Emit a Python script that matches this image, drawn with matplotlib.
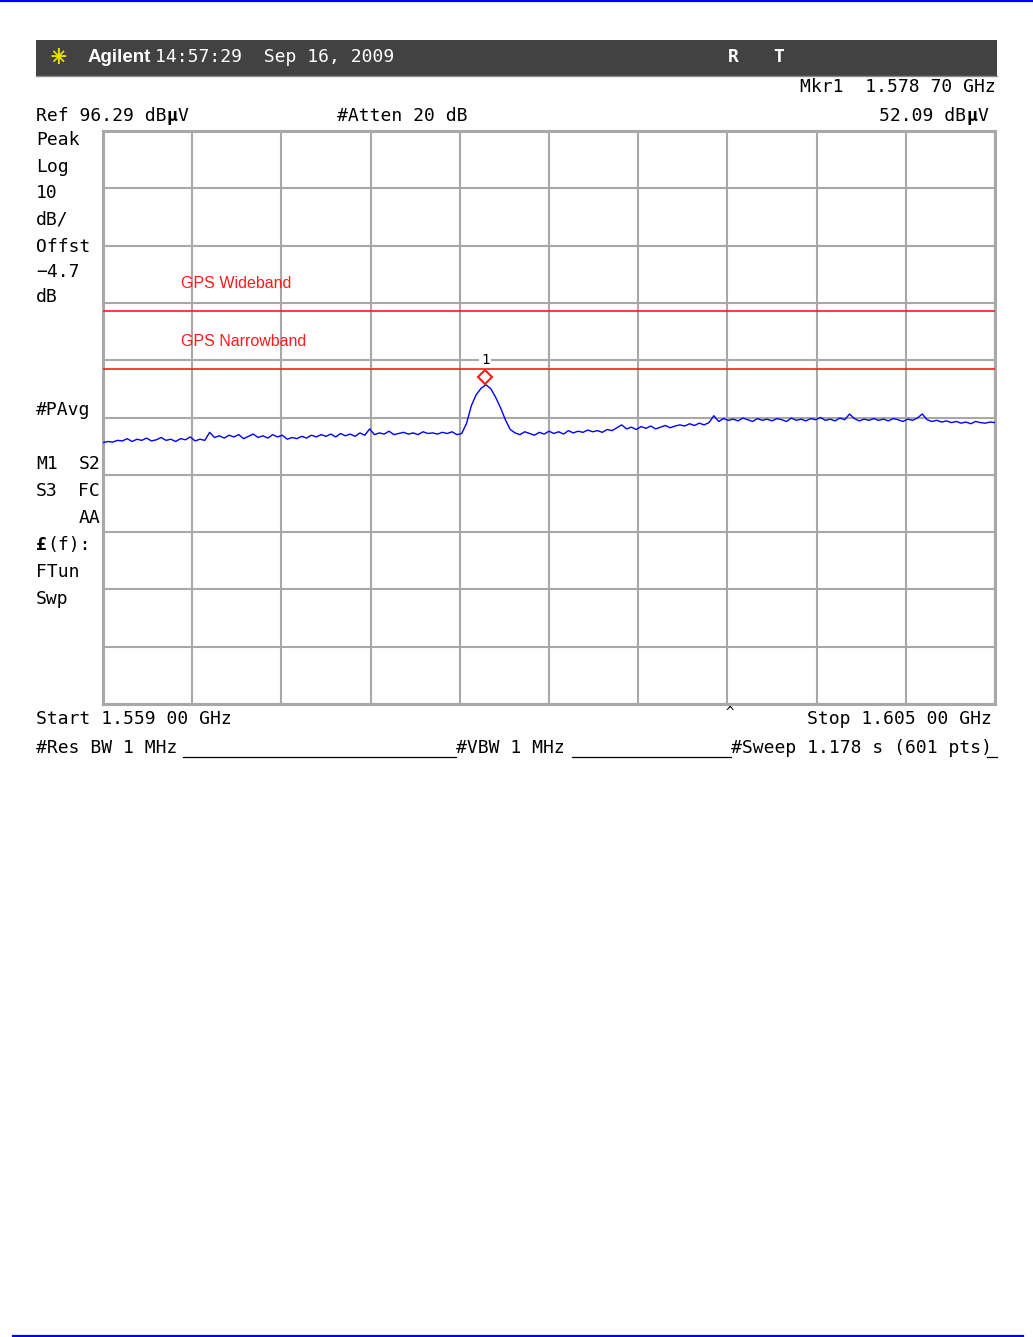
import numpy as np
import matplotlib
matplotlib.use("Agg")
import matplotlib.pyplot as plt
import matplotlib.transforms as mtransforms
from matplotlib.lines import Line2D
from matplotlib.patches import Rectangle

start_ghz = 1.559
stop_ghz = 1.605
ref_level = 96.29
db_per_div = 10

# measured level in dBuV, one value every 0.25 MHz
level_dbuv = [
    41.9, 42.1, 42.0, 42.3, 42.2, 42.6, 42.1, 42.5, 42.3, 42.7, 42.2, 42.4, 42.8, 42.3, 42.5, 42.1,
    42.6, 42.4, 42.9, 42.2, 42.5, 42.3,
    43.7, 42.8, 43.1, 42.7, 43.2, 42.9, 43.3, 42.6, 43.0, 43.4, 42.8, 43.1, 42.7, 43.3, 42.9, 43.2,
    42.5, 42.8, 42.6, 43.0, 42.7, 43.2, 42.9, 43.3, 43.0, 43.4, 42.9, 43.5, 43.1, 43.4, 43.0, 43.6, 43.2,
    44.3, 43.3, 43.6, 43.4, 43.9, 43.3, 43.5, 43.7, 43.4, 43.6, 43.3, 43.8, 43.5, 43.6, 43.4, 43.7,
    43.5, 43.8,
    43.3, 43.5,
    45.3, 48.4, 50.3, 51.4, 52.0, 51.3, 49.8, 48.0, 45.9, 44.2, 43.6,
    43.3, 43.8, 43.5, 43.2, 43.7, 43.4, 43.9, 43.5, 43.8, 43.4, 44.0, 43.6, 43.9, 43.7, 44.1, 43.8,
    44.0, 43.7, 44.2,
    44.0, 44.5, 45.0, 44.3, 44.6, 44.2, 44.7, 44.4, 44.8, 44.3, 44.6, 44.9, 44.5, 44.8, 45.0,
    44.8, 45.2, 44.9, 45.3, 45.0, 45.4, 46.6,
    45.6, 46.1, 45.8, 46.0, 45.7, 46.2, 45.9, 45.6, 46.1, 45.8, 46.0, 45.7, 46.1, 45.9, 45.6, 46.2,
    45.8, 46.0, 45.7, 46.1, 45.9, 46.3, 45.8, 46.0, 45.7, 46.2, 45.9, 46.9, 46.1, 45.7, 46.0, 45.8, 46.1,
    45.8, 46.0, 45.7, 46.1, 45.9, 45.6, 46.0, 45.8, 46.2, 46.9, 45.9, 45.6, 45.8, 45.5, 45.7,
    45.4, 45.6, 45.3, 45.5, 45.2, 45.6, 45.4, 45.3, 45.5, 45.4,
]
freq_ghz = np.linspace(start_ghz, stop_ghz, len(level_dbuv))

mkr_freq = 1.57870
mkr_level = 52.09

limit_names = ["GPS Wideband", "GPS Narrowband"]
limit_levels = [64.9, 54.8]
limit_label_levels = [69.6, 59.6]
limit_label_freq = 1.5630

# ========== Figure ==========
W, H = 1033, 1337
fig = plt.figure(figsize=(W / 100, H / 100), dpi=100)

def fx(x):
    return x / W

def fy(y):
    return 1 - y / H

MONO = "DejaVu Sans Mono"
FS = 13.0
CW = 0.602 * FS * 100 / 72  # monospace char width in px

def mtext(x, y, s, ha="left", **kw):
    kw.setdefault("color", "black")
    kw.setdefault("family", MONO)
    kw.setdefault("fontsize", FS)
    fig.text(fx(x), fy(y), s, ha=ha, va="center", **kw)

def unit_text(x, y, prefix):
    # "...dB" + bold mu + "V"
    mtext(x, y, prefix)
    n = len(prefix)
    mtext(x + n * CW, y, "\u00b5", weight="bold")
    mtext(x + (n + 1) * CW, y, "V")

# page border lines
fig.add_artist(Line2D([0, 1], [fy(1), fy(1)], color="#0000ff", lw=1.6))
fig.add_artist(Line2D([fx(13), fx(1023)], [fy(1335.5), fy(1335.5)], color="#0000ff", lw=1.6))

# header bar
fig.add_artist(Rectangle((fx(36), fy(76)), fx(997) - fx(36), fy(40) - fy(76),
                         facecolor="#424242", edgecolor="none"))
fig.add_artist(Line2D([fx(36), fx(997)], [fy(75.5), fy(75.5)], color="#8a8a8a", lw=1.0))
fig.text(fx(58), fy(57.5), "+", color="#e8e000", fontsize=17, ha="center", va="center",
         family="DejaVu Sans")
fig.text(fx(58), fy(57.5), "\u00d7", color="#e8e000", fontsize=15, ha="center", va="center",
         family="DejaVu Sans")
fig.text(fx(88), fy(57.5), "Agilent", color="white", fontsize=13.5, weight="bold",
         family="Liberation Sans", ha="left", va="center")
mtext(155, 57.5, "14:57:29  Sep 16, 2009", color="white")
mtext(733, 57.5, "R", color="white", weight="bold", ha="center")
mtext(779, 57.5, "T", color="white", weight="bold", ha="center")

# top annotation lines
mtext(996, 87, "Mkr1  1.578 70 GHz", ha="right")
unit_text(36, 116, "Ref 96.29 dB")
mtext(337, 116, "#Atten 20 dB")
unit_text(988 - 10 * CW, 116, "52.09 dB")

# left side panel
left_labels = [("Peak", 140), ("Log", 167), ("10", 193), ("dB/", 220), ("Offst", 247),
               ("\u22124.7", 272), ("dB", 297), ("#PAvg", 410), ("M1", 464), ("S3", 491),
               ("FTun", 572), ("Swp", 599)]
for s, y in left_labels:
    mtext(36, y, s)
mtext(100, 464, "S2", ha="right")
mtext(100, 491, "FC", ha="right")
mtext(100, 518, "AA", ha="right")
mtext(36, 545, "\u00a3", weight="bold")
mtext(36 + CW, 545, "(f):")

# bottom annotation lines
mtext(36, 719, "Start 1.559 00 GHz")
mtext(730, 713, "^", ha="center", fontsize=10)
mtext(992, 719, "Stop 1.605 00 GHz", ha="right")
mtext(36, 748, "#Res BW 1 MHz")
mtext(456, 748, "#VBW 1 MHz")
mtext(731, 748, "#Sweep 1.178 s (601 pts)")
for x0, x1 in [(183, 456), (572, 731), (987, 997)]:
    fig.add_artist(Line2D([fx(x0), fx(x1)], [fy(757.5), fy(757.5)], color="black", lw=0.9))

# ========== Trace window ==========
ax = fig.add_axes([fx(103), fy(704), fx(995) - fx(103), fy(131) - fy(704)])
ax.set_xlim(start_ghz, stop_ghz)
ax.set_ylim(ref_level - 10 * db_per_div, ref_level)
ax.set_xticks(np.linspace(start_ghz, stop_ghz, 11))
ax.set_yticks(np.linspace(ref_level - 10 * db_per_div, ref_level, 11))
ax.tick_params(length=0, labelleft=False, labelbottom=False)
ax.grid(True, color="#a8a8a8", lw=1.5)
for sp in ax.spines.values():
    sp.set_color("#a8a8a8")
    sp.set_linewidth(2.2)

for lvl in limit_levels:
    ax.axhline(lvl, color="#ff1a1a", lw=1.2, zorder=3)
for name, lvl in zip(limit_names, limit_label_levels):
    ax.text(limit_label_freq, lvl, name, color="#ff1a1a", fontsize=11.5,
            family="Liberation Sans", ha="left", va="center")

ax.plot(freq_ghz, level_dbuv, color="#0000ff", lw=1.0, zorder=4)

mk_tr = mtransforms.offset_copy(ax.transData, fig=fig, x=0, y=5.2, units="points")
ax.plot([mkr_freq], [mkr_level], marker="D", ms=7.5, mfc="white", mec="#ff1a1a",
        mew=1.5, transform=mk_tr, zorder=5)
lb_tr = mtransforms.offset_copy(ax.transData, fig=fig, x=0, y=17.5, units="points")
ax.text(mkr_freq, mkr_level, "1", transform=lb_tr, ha="center", va="center",
        family=MONO, fontsize=10, color="black", zorder=6,
        bbox=dict(facecolor="white", edgecolor="none", pad=1))

fig.savefig("out.png", dpi=100)
print("Saved: out.png")
